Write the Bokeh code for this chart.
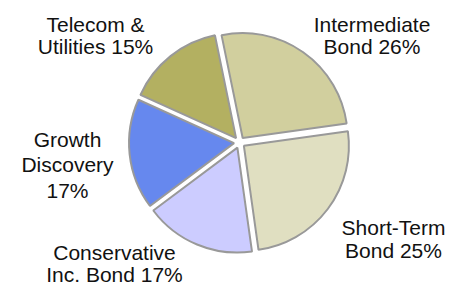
import math
from bokeh.plotting import figure
from bokeh.models import Range1d, ColumnDataSource
from bokeh.core.properties import value
from bokeh.embed import file_html
from bokeh.resources import INLINE

# ---- data ----
categories = ["Intermediate Bond", "Short-Term Bond", "Conservative Inc. Bond",
              "Growth Discovery", "Telecom & Utilities"]
shares = [26, 25, 17, 17, 15]
labels = ["Intermediate\nBond 26%", "Short-Term\nBond 25%", "Conservative\nInc. Bond 17%",
          "Growth\nDiscovery\n17%", "Telecom &\nUtilities 15%"]
colors = ["#D1CF9E", "#E0DFC1", "#CCCCFF", "#6688EE", "#B3B061"]

# ---- layout (pixels, y up) ----
W, H = 462, 286
CX, CY = 239, 144          # pie centre
R = 105                    # radius
EXPLODE = 5.5              # slice offset
START = -11.6              # compass degrees (clockwise from 12 o'clock)
label_pos = [(371.5, 251), (393, 47.5), (114, 23), (67, 121.5), (95, 251)]
line_heights = [0.97, 0.97, 0.97, 1.12, 0.97]

total = float(sum(shares))
xs, ys, a0, a1 = [], [], [], []
cum = START
for s in shares:
    span = s / total * 360.0
    t1, t2 = cum, cum + span
    mid = math.radians((t1 + t2) / 2)
    xs.append(CX + EXPLODE * math.sin(mid))
    ys.append(CY + EXPLODE * math.cos(mid))
    a0.append(math.radians(90 - t2))
    a1.append(math.radians(90 - t1))
    cum = t2

src = ColumnDataSource(dict(x=xs, y=ys, a0=a0, a1=a1, color=colors, cat=categories))

p = figure(width=W, height=H, output_backend="svg", toolbar_location=None,
           x_range=Range1d(0, W), y_range=Range1d(0, H), min_border=0)
p.axis.visible = False
p.grid.visible = False
p.outline_line_color = None
p.background_fill_color = "white"
p.border_fill_color = "white"

p.wedge(x="x", y="y", radius=R, start_angle="a0", end_angle="a1",
        fill_color="color", line_color="#999999", line_width=2, source=src)

for i, lab in enumerate(labels):
    lsrc = ColumnDataSource(dict(x=[label_pos[i][0]], y=[label_pos[i][1]], text=[lab]))
    p.text(x="x", y="y", text="text", source=lsrc, text_align="center", text_baseline="middle",
           text_font=value("Liberation Sans"), text_font_size="21px", text_color="#111111",
           text_line_height=line_heights[i])

open("out.html", "w").write(file_html(p, INLINE))
